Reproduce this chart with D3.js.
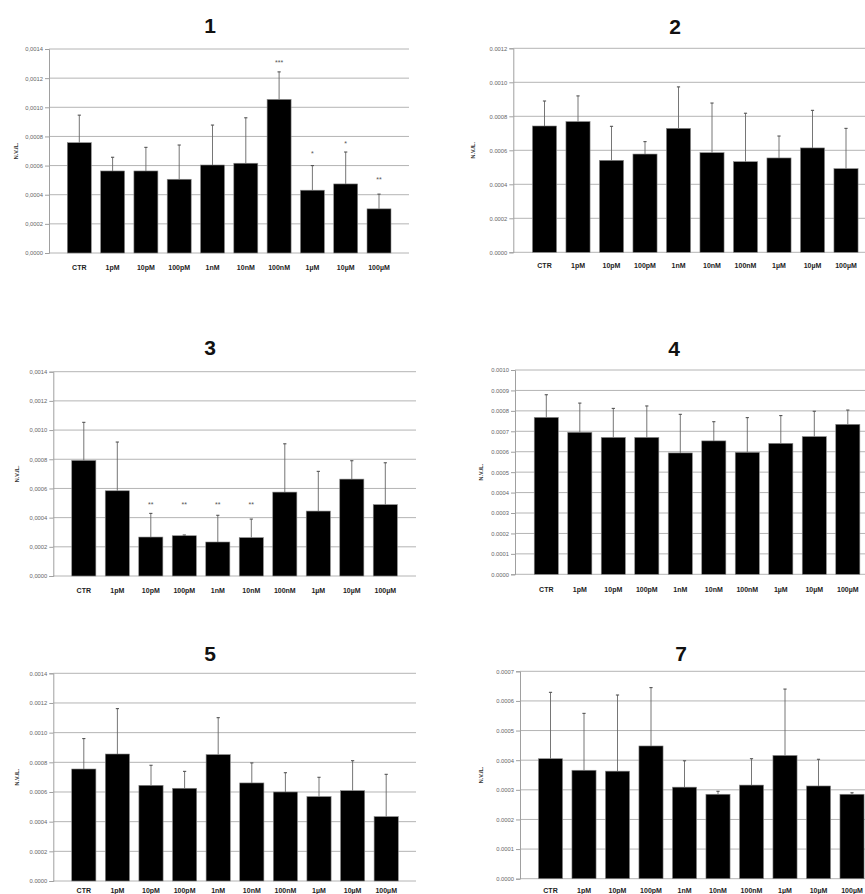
<!DOCTYPE html>
<html>
<head>
<meta charset="utf-8">
<script src="https://cdn.jsdelivr.net/npm/d3@7"></script>
<style>
  body { margin: 0; background: #fff; }
  svg { display: block; font-family: "Liberation Sans", Arial, sans-serif; }
</style>
</head>
<body>
<svg id="chart" width="865" height="894"></svg>
<script>
// categories (shared by every panel)
let categories = ['CTR', '1pM', '10pM', '100pM', '1nM', '10nM', '100nM', '1µM', '10µM', '100µM']

// panel 1
let mean1 = [0.000757, 0.000563, 0.000563, 0.000506, 0.000604, 0.000616, 0.001054, 0.000431, 0.000474, 0.000303]
let err1  = [0.000946, 0.000657, 0.000725, 0.000741, 0.000878, 0.000928, 0.001243, 0.000600, 0.000693, 0.000404]
let sig1  = ['', '', '', '', '', '', '***', '*', '*', '**']
let sigAt1 = [0, 0, 0, 0, 0, 0, 0.001318, 0.000691, 0.000764, 0.000518]

// panel 2
let mean2 = [0.000743, 0.000769, 0.000541, 0.000578, 0.000729, 0.000586, 0.000533, 0.000555, 0.000614, 0.000492]
let err2  = [0.000890, 0.000920, 0.000741, 0.000651, 0.000973, 0.000878, 0.000818, 0.000684, 0.000835, 0.000729]

// panel 3
let mean3 = [0.000792, 0.000584, 0.000267, 0.000276, 0.000233, 0.000263, 0.000575, 0.000445, 0.000664, 0.000489]
let err3  = [0.001053, 0.000918, 0.000429, 0.000281, 0.000416, 0.000390, 0.000906, 0.000717, 0.000790, 0.000776]
let sig3  = ['', '', '**', '**', '**', '**', '', '', '', '']
let sigAt3 = [0, 0, 0.000498, 0.000498, 0.000498, 0.000498, 0, 0, 0, 0]

// panel 4
let mean4 = [0.000768, 0.000695, 0.000670, 0.000670, 0.000594, 0.000653, 0.000597, 0.000641, 0.000674, 0.000734]
let err4  = [0.000879, 0.000838, 0.000812, 0.000824, 0.000783, 0.000747, 0.000767, 0.000777, 0.000798, 0.000804]

// panel 5
let mean5 = [0.000755, 0.000856, 0.000645, 0.000625, 0.000852, 0.000661, 0.000600, 0.000569, 0.000609, 0.000434]
let err5  = [0.000960, 0.001162, 0.000780, 0.000739, 0.001101, 0.000796, 0.000730, 0.000699, 0.000811, 0.000719]

// panel 7
let mean7 = [0.000405, 0.000366, 0.000363, 0.000448, 0.000309, 0.000285, 0.000316, 0.000416, 0.000313, 0.000285]
let err7  = [0.000629, 0.000558, 0.000620, 0.000645, 0.000398, 0.000295, 0.000405, 0.000640, 0.000403, 0.000290]

let titles = ['1', '2', '3', '4', '5', '7']
let yMax   = [0.0014, 0.0012, 0.0014, 0.0010, 0.0014, 0.0007]
let yStep  = [0.0002, 0.0002, 0.0002, 0.0001, 0.0002, 0.0001]
let decimalComma = [true, false, true, false, false, false]

let panelData = [
    {mean: mean1, err: err1, sig: sig1, sigAt: sigAt1},
    {mean: mean2, err: err2},
    {mean: mean3, err: err3, sig: sig3, sigAt: sigAt3},
    {mean: mean4, err: err4},
    {mean: mean5, err: err5},
    {mean: mean7, err: err7}
]

// where each panel sits on the page
let layout = [
    {ax: 49,    top: 49,    bottom: 253,   right: 409, c0: 79.3,  step: 33.3, tx: 210, ty: 25,  lx: 267, yt: 16},
    {ax: 513.3, top: 48.3,  bottom: 252.3, right: 870, c0: 544.5, step: 33.5, tx: 675, ty: 26,  lx: 265, yt: 473},
    {ax: 53.3,  top: 371.7, bottom: 576,   right: 416, c0: 83.8,  step: 33.5, tx: 210, ty: 347, lx: 590, yt: 17},
    {ax: 515,   top: 370,   bottom: 574.3, right: 870, c0: 546.3, step: 33.5, tx: 674, ty: 348, lx: 589, yt: 481},
    {ax: 53.3,  top: 673.3, bottom: 881,   right: 416, c0: 83.8,  step: 33.6, tx: 210, ty: 653, lx: 890, yt: 17},
    {ax: 520,   top: 671.3, bottom: 878.7, right: 870, c0: 550.5, step: 33.5, tx: 681, ty: 653, lx: 890, yt: 481}
]

let svg = d3.select('#chart')

let drawPanel = function (i) {
    let L = layout[i]
    let d = panelData[i]
    let g = svg.append('g').attr('class', 'panel')

    let y = d3.scaleLinear()
        .domain([0, yMax[i]])
        .range([L.bottom, L.top])

    let x = d3.scaleBand()
        .domain(categories)
        .range([L.c0 - L.step / 2, L.c0 + L.step * (categories.length - 0.5)])
        .paddingInner(0.28)
        .paddingOuter(0.14)

    let cx = k => x(categories[k]) + x.bandwidth() / 2

    let ticks = d3.range(0, yMax[i] + yStep[i] / 2, yStep[i])
    let fmt = v => {
        let s = d3.format('.4f')(v)
        return decimalComma[i] ? s.replace('.', ',') : s
    }

    // gridlines
    g.append('g')
        .selectAll('line')
        .data(ticks)
        .enter()
        .append('line')
        .attr('x1', L.ax)
        .attr('x2', L.right)
        .attr('y1', v => y(v))
        .attr('y2', v => y(v))
        .attr('stroke', '#b4b4b4')
        .attr('stroke-width', 1)

    // y axis
    let yAxis = g.append('g')
        .attr('transform', `translate(${L.ax},0)`)
        .call(d3.axisLeft(y).tickValues(ticks).tickFormat(fmt).tickSize(4).tickPadding(2))
    yAxis.select('.domain').attr('stroke', '#a0a0a0')
    yAxis.selectAll('.tick line').attr('stroke', '#a0a0a0')
    yAxis.selectAll('.tick text')
        .attr('fill', '#666')
        .style('font-size', '5.8px')
        .style('font-family', '"Liberation Sans", Arial, sans-serif')

    // bars
    g.append('g')
        .selectAll('rect')
        .data(d.mean)
        .enter()
        .append('rect')
        .attr('x', (v, k) => x(categories[k]))
        .attr('y', v => y(v))
        .attr('width', x.bandwidth())
        .attr('height', v => y(0) - y(v))
        .attr('fill', '#000')
        .attr('stroke', '#8a8a8a')
        .attr('stroke-width', 0.6)

    // error bars (upper only)
    let eb = g.append('g')
        .selectAll('g')
        .data(d.err)
        .enter()
        .append('g')
    eb.append('line')
        .attr('x1', (v, k) => cx(k))
        .attr('x2', (v, k) => cx(k))
        .attr('y1', (v, k) => y(d.mean[k]))
        .attr('y2', v => y(v))
        .attr('stroke', '#666')
        .attr('stroke-width', 0.9)
    eb.append('line')
        .attr('x1', (v, k) => cx(k) - 1.6)
        .attr('x2', (v, k) => cx(k) + 1.6)
        .attr('y1', v => y(v))
        .attr('y2', v => y(v))
        .attr('stroke', '#555')
        .attr('stroke-width', 1.1)

    // significance stars
    if (d.sig) {
        g.append('g')
            .selectAll('text')
            .data(d.sig)
            .enter()
            .append('text')
            .attr('x', (s, k) => cx(k))
            .attr('y', (s, k) => y(d.sigAt[k]) + 4)
            .attr('text-anchor', 'middle')
            .attr('fill', '#555')
            .style('font-size', '7px')
            .text(s => s)
    }

    // category labels
    g.append('g')
        .selectAll('text')
        .data(categories)
        .enter()
        .append('text')
        .attr('x', c => x(c) + x.bandwidth() / 2)
        .attr('y', L.lx + 2.5)
        .attr('text-anchor', 'middle')
        .attr('fill', '#222')
        .style('font-size', '7px')
        .style('font-weight', 'bold')
        .text(c => c)

    // y title
    g.append('text')
        .attr('transform', `translate(${L.yt},${(L.top + L.bottom) / 2}) rotate(-90)`)
        .attr('text-anchor', 'middle')
        .attr('dy', '0.35em')
        .attr('fill', '#333')
        .style('font-size', '5.5px')
        .style('font-weight', 'bold')
        .text('N.V./L.')

    // panel title
    g.append('text')
        .attr('x', L.tx)
        .attr('y', L.ty + 7.5)
        .attr('text-anchor', 'middle')
        .attr('fill', '#111')
        .style('font-size', '21px')
        .style('font-weight', 'bold')
        .text(titles[i])
}

titles.forEach((t, i) => drawPanel(i))
</script>
</body>
</html>
